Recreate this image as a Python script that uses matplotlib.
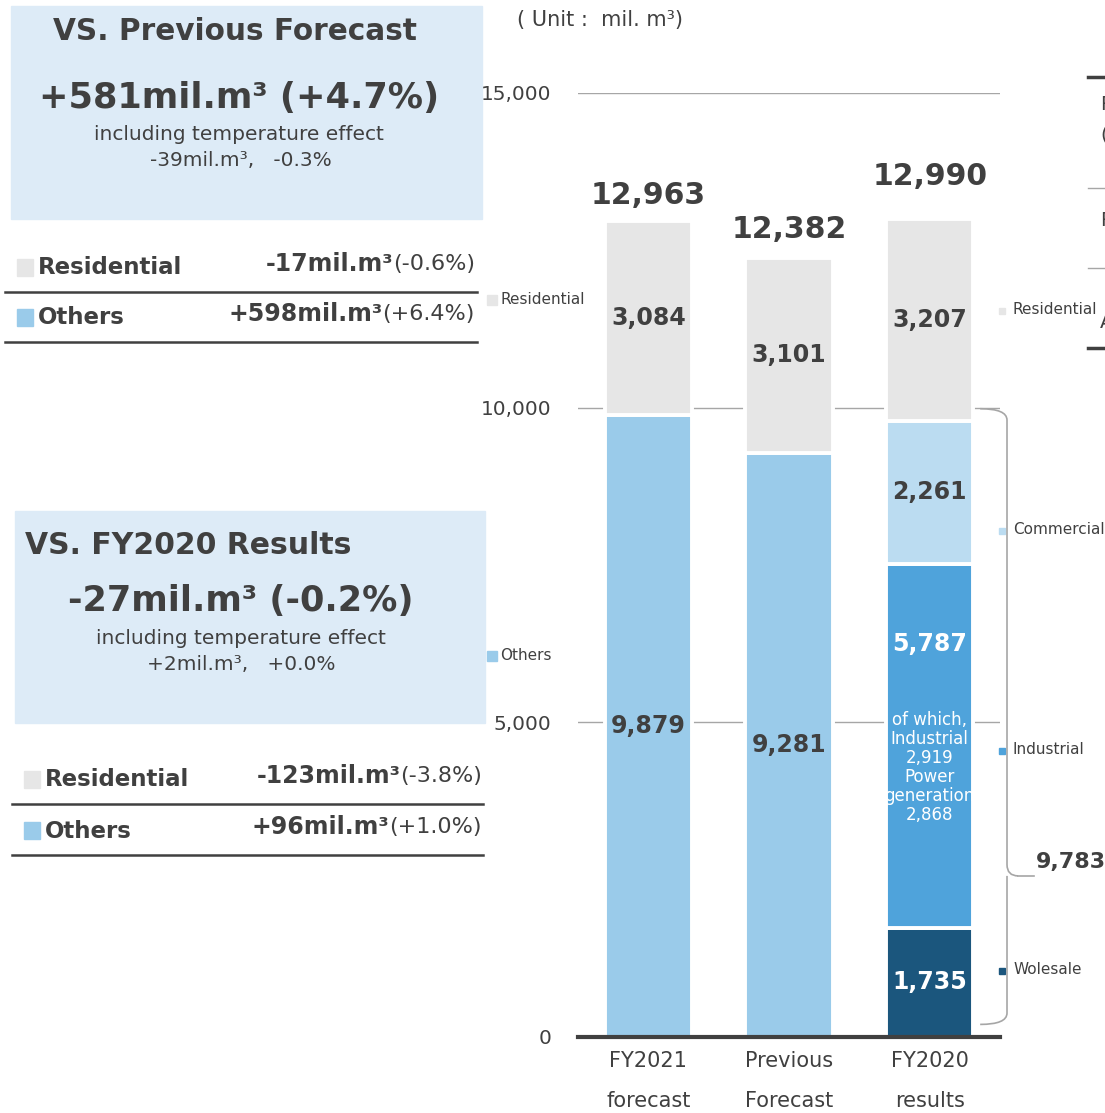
import matplotlib
matplotlib.use('Agg')
import matplotlib.pyplot as plt
import matplotlib.transforms as mtransforms
from matplotlib.patches import Rectangle, PathPatch
from matplotlib.path import Path
import numpy as np

plt.rcParams['font.family'] = ['DejaVu Sans']

# ---- data ----
bar_names = ['FY2021\nforecast', 'Previous\nForecast', 'FY2020\nresults']
totals = [12963, 12382, 12990]
residential = [3084, 3101, 3207]
others = [9879, 9281]              # first two bars only
wholesale_2020 = 1735
industrial_2020 = 5787
commercial_2020 = 2261
industrial_only_2020 = 2919
power_gen_2020 = 2868
yticks = [0, 5000, 10000, 15000]

prev_total = '+581mil.m³ (+4.7%)'
prev_temp = '-39mil.m³,   -0.3%'
prev_rows = [('Residential', '-17mil.m³', '(-0.6%)'),
             ('Others', '+598mil.m³', '(+6.4%)')]
fy20_total = '-27mil.m³ (-0.2%)'
fy20_temp = '+2mil.m³,   +0.0%'
fy20_rows = [('Residential', '-123mil.m³', '(-3.8%)'),
             ('Others', '+96mil.m³', '(+1.0%)')]

# ---- style ----
C_RES = '#E6E6E6'
C_OTH = '#9ACBEA'
C_COM = '#BBDCF1'
C_IND = '#4FA3DB'
C_WHO = '#1B567D'
TXT = '#404040'
GRID = '#A6A6A6'
BOX = '#DDEBF7'

W, H = 1105, 1113
fig = plt.figure(figsize=(W / 100, H / 100), dpi=100)

# overlay in pixel coords for the side panels
ov = fig.add_axes([0, 0, 1, 1], zorder=0)
ov.set_xlim(0, W)
ov.set_ylim(H, 0)
ov.axis('off')

ax = fig.add_axes([578 / W, 1 - 1037 / H, 422 / W, 944 / H], zorder=1)
ax.patch.set_alpha(0)
ax.set_xlim(-0.5, 2.5)
ax.set_ylim(0, 15000)

x = np.arange(3)
bw = 0.62
ekw = dict(edgecolor='white', linewidth=2.8, zorder=2)

# stacked bars
ax.bar(x[:2], others, bw, color=C_OTH, **ekw)
ax.bar(x[:2], residential[:2], bw, bottom=others, color=C_RES, **ekw)
segs = [(wholesale_2020, C_WHO), (industrial_2020, C_IND), (commercial_2020, C_COM)]
b = 0
seg_bottoms = []
for v, c in segs:
    ax.bar(x[2], v, bw, bottom=b, color=c, **ekw)
    seg_bottoms.append(b)
    b += v
others_2020 = b
ax.bar(x[2], residential[2], bw, bottom=others_2020, color=C_RES, **ekw)

lab = dict(ha='center', va='center', fontsize=17, fontweight='bold', zorder=4)
for i in range(2):
    ax.text(x[i], others[i] / 2, f'{others[i]:,}', color=TXT, **lab)
    ax.text(x[i], others[i] + residential[i] / 2, f'{residential[i]:,}', color=TXT, **lab)
ax.text(x[2], others_2020 + residential[2] / 2, f'{residential[2]:,}', color=TXT, **lab)
ax.text(x[2], seg_bottoms[2] + commercial_2020 / 2, f'{commercial_2020:,}', color=TXT, **lab)
ax.text(x[2], seg_bottoms[0] + wholesale_2020 / 2, f'{wholesale_2020:,}', color='white', **lab)
ax.text(x[2], seg_bottoms[1] + industrial_2020 * 0.78, f'{industrial_2020:,}', color='white', **lab)
ax.text(x[2], seg_bottoms[1] + industrial_2020 * 0.44,
        f'of which,\nIndustrial\n{industrial_only_2020:,}\nPower\ngeneration\n{power_gen_2020:,}',
        ha='center', va='center', fontsize=12, color='white', linespacing=1.07, zorder=4)

# totals
for xi, t, off in zip(x, totals, [26, 28, 43]):
    ax.annotate(f'{t:,}', (xi, t), xytext=(0, off * 0.72), textcoords='offset points',
                ha='center', va='center', fontsize=21.5, fontweight='bold', color=TXT)

# axes styling
ax.set_yticks(yticks)
ax.set_yticklabels([f'{v:,}' for v in yticks])
ax.yaxis.grid(True, color=GRID, linewidth=1)
ax.set_axisbelow(True)
ax.set_xticks(x)
ax.set_xticklabels(bar_names, linespacing=2.25)
ax.tick_params(axis='y', length=0, pad=19, labelsize=14.4, labelcolor=TXT)
ax.tick_params(axis='x', length=0, pad=10, labelsize=15, labelcolor=TXT)
for s in ['left', 'right', 'top']:
    ax.spines[s].set_visible(False)
ax.spines['bottom'].set_color(TXT)
ax.spines['bottom'].set_linewidth(3)
ax.spines['bottom'].set_zorder(5)

# brace for FY2020 "others"
tr = mtransforms.blended_transform_factory(ax.transAxes, ax.transData)
x0, xl, xt = 1.0166, 0.953, 1.043
top, bot, tip, r = others_2020 + 200, 200, 2560, 180
verts = [(xl, top), (x0, top), (x0, top - r),
         (x0, tip + r), (x0, tip), (xt, tip),
         (x0, tip), (x0, tip - r),
         (x0, bot + r), (x0, bot), (xl, bot)]
codes = [Path.MOVETO, Path.CURVE3, Path.CURVE3,
         Path.LINETO, Path.CURVE3, Path.CURVE3,
         Path.MOVETO, Path.LINETO,
         Path.LINETO, Path.CURVE3, Path.CURVE3]
ax.add_patch(PathPatch(Path(verts, codes), transform=tr, fill=False,
                       edgecolor=GRID, linewidth=1.2, clip_on=False))
ax.plot([xt, 1.08], [tip, tip], transform=tr, color=GRID, lw=1.2, clip_on=False)
ax.text(1.084, tip + 220, f'{others_2020:,}', transform=tr, ha='left', va='center',
        fontsize=16, fontweight='bold', color=TXT, clip_on=False)

# unit
ov.text(600, 20, '( Unit :  mil. m³)', ha='center', va='center', fontsize=15, color=TXT)

# legend labels beside bars
side = [('Residential', C_RES, 310), ('Commercial', C_COM, 530),
        ('Industrial', C_IND, 750), ('Wolesale', C_WHO, 970)]
for name, c, yy in side:
    ov.add_patch(Rectangle((999, yy - 2), 6, 6, color=c))
    ov.text(1013, yy, name, ha='left', va='center', fontsize=11, color=TXT)
for name, c, yy in [('Residential', C_RES, 300), ('Others', C_OTH, 656)]:
    ov.add_patch(Rectangle((487, yy - 5), 10, 10, color=c))
    ov.text(500, yy, name, ha='left', va='center', fontsize=11, color=TXT)

# cut-off table fragments at the right edge
for yy, c, lw in [(77, TXT, 2.5), (188, GRID, 1), (268, GRID, 1), (348, TXT, 2.5)]:
    ov.plot([1088, W], [yy, yy], color=c, lw=lw)
for ch, yy in [('R', 104), ('(', 135), ('R', 220), ('A', 322)]:
    ov.text(1100, yy, ch, ha='left', va='center', fontsize=14, color=TXT)

# comparison boxes
ov.add_patch(Rectangle((11, 6), 471, 213, color=BOX, zorder=0))
ov.add_patch(Rectangle((15, 511), 470, 212, color=BOX, zorder=0))

ov.text(235, 32, 'VS. Previous Forecast', ha='center', va='center',
        fontsize=21.3, fontweight='bold', color=TXT)
ov.text(239, 98, prev_total, ha='center', va='center', fontsize=25.3, fontweight='bold', color=TXT)
ov.text(239, 134, 'including temperature effect', ha='center', va='center', fontsize=14.5, color=TXT)
ov.text(241, 160, prev_temp, ha='center', va='center', fontsize=14.5, color=TXT)

ov.text(25, 546, 'VS. FY2020 Results', ha='left', va='center',
        fontsize=21.5, fontweight='bold', color=TXT)
ov.text(241, 601, fy20_total, ha='center', va='center', fontsize=25.3, fontweight='bold', color=TXT)
ov.text(241, 638, 'including temperature effect', ha='center', va='center', fontsize=14.5, color=TXT)
ov.text(241, 664, fy20_temp, ha='center', va='center', fontsize=14.5, color=TXT)

renderer = fig.canvas.get_renderer()


def table(rows, x_sq, x_right, ys, line_x):
    for (name, val, pct), yy in zip(rows, ys):
        c = C_RES if name == 'Residential' else C_OTH
        ov.add_patch(Rectangle((x_sq, yy - 9), 16, 17, color=c))
        ov.text(x_sq + 21, yy, name, ha='left', va='center', fontsize=16.5,
                fontweight='bold', color=TXT)
        t = ov.text(x_right, yy - 4, pct, ha='right', va='center', fontsize=16, color=TXT)
        wpx = t.get_window_extent(renderer).width
        ov.text(x_right - wpx, yy - 4, val, ha='right', va='center', fontsize=17,
                fontweight='bold', color=TXT)
        ov.plot(line_x, [yy + 24, yy + 24], color=TXT, lw=1.8)


table(prev_rows, 17, 475, [268, 318], [5, 477])
table(fy20_rows, 24, 482, [780, 831], [12, 483])

fig.savefig('out.png', dpi=100)
